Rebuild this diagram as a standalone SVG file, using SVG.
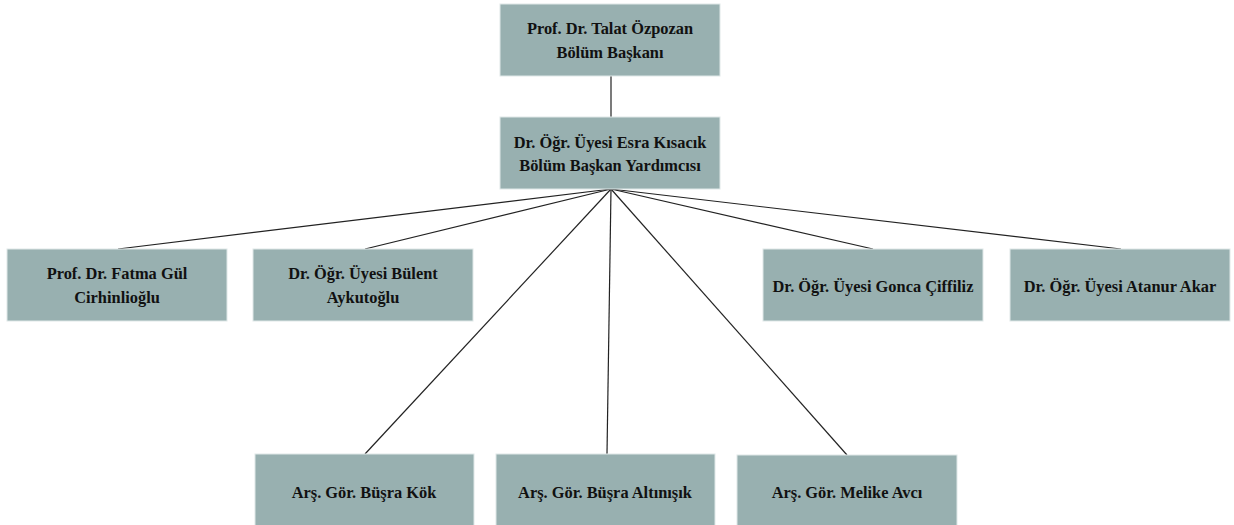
<svg xmlns="http://www.w3.org/2000/svg" width="1234" height="525" viewBox="0 0 1234 525">
<style>
.box{fill:#98b0b0;stroke:#dfe8e8;stroke-width:1}
.t{font-family:"Liberation Serif","Times New Roman",serif;font-weight:bold;font-size:16.4px;fill:#111;text-anchor:middle}
.c{stroke:#222;stroke-width:1.2;fill:none}
</style>
<rect width="1234" height="525" fill="#ffffff"/>
<g id="connectors">
<line class="c" x1="611" y1="76" x2="611" y2="117"/>
<line class="c" x1="611" y1="189" x2="118" y2="249"/>
<line class="c" x1="611" y1="189" x2="365" y2="249"/>
<line class="c" x1="611" y1="189" x2="873" y2="249"/>
<line class="c" x1="611" y1="189" x2="1121" y2="249"/>
<line class="c" x1="611" y1="189" x2="365" y2="454"/>
<line class="c" x1="611" y1="189" x2="607" y2="454"/>
<line class="c" x1="611" y1="189" x2="847" y2="455"/>
</g>
<g id="n-talat"><rect class="box" x="500" y="4" width="220" height="72"/><text class="t" x="610" y="34">Prof. Dr. Talat Özpozan</text><text class="t" x="610" y="58">Bölüm Başkanı</text></g>
<g id="n-esra"><rect class="box" x="500" y="117" width="220" height="72"/><text class="t" x="610" y="148">Dr. Öğr. Üyesi Esra Kısacık</text><text class="t" x="610" y="171">Bölüm Başkan Yardımcısı</text></g>
<g id="n-fatma"><rect class="box" x="7" y="249" width="220" height="72"/><text class="t" x="117" y="279">Prof. Dr. Fatma Gül</text><text class="t" x="117" y="303">Cirhinlioğlu</text></g>
<g id="n-bulent"><rect class="box" x="253" y="249" width="220" height="72"/><text class="t" x="363" y="279">Dr. Öğr. Üyesi Bülent</text><text class="t" x="363" y="303">Aykutoğlu</text></g>
<g id="n-gonca"><rect class="box" x="763" y="249" width="220" height="72"/><text class="t" x="873" y="292">Dr. Öğr. Üyesi Gonca Çiffiliz</text></g>
<g id="n-atanur"><rect class="box" x="1010" y="249" width="220" height="72"/><text class="t" x="1120" y="292">Dr. Öğr. Üyesi Atanur Akar</text></g>
<g id="n-kok"><rect class="box" x="255" y="454" width="219" height="72"/><text class="t" x="364" y="498">Arş. Gör. Büşra Kök</text></g>
<g id="n-altinisik"><rect class="box" x="496" y="454" width="219" height="72"/><text class="t" x="605" y="498">Arş. Gör. Büşra Altınışık</text></g>
<g id="n-melike"><rect class="box" x="737" y="455" width="220" height="72"/><text class="t" x="847" y="498">Arş. Gör. Melike Avcı</text></g>
</svg>
